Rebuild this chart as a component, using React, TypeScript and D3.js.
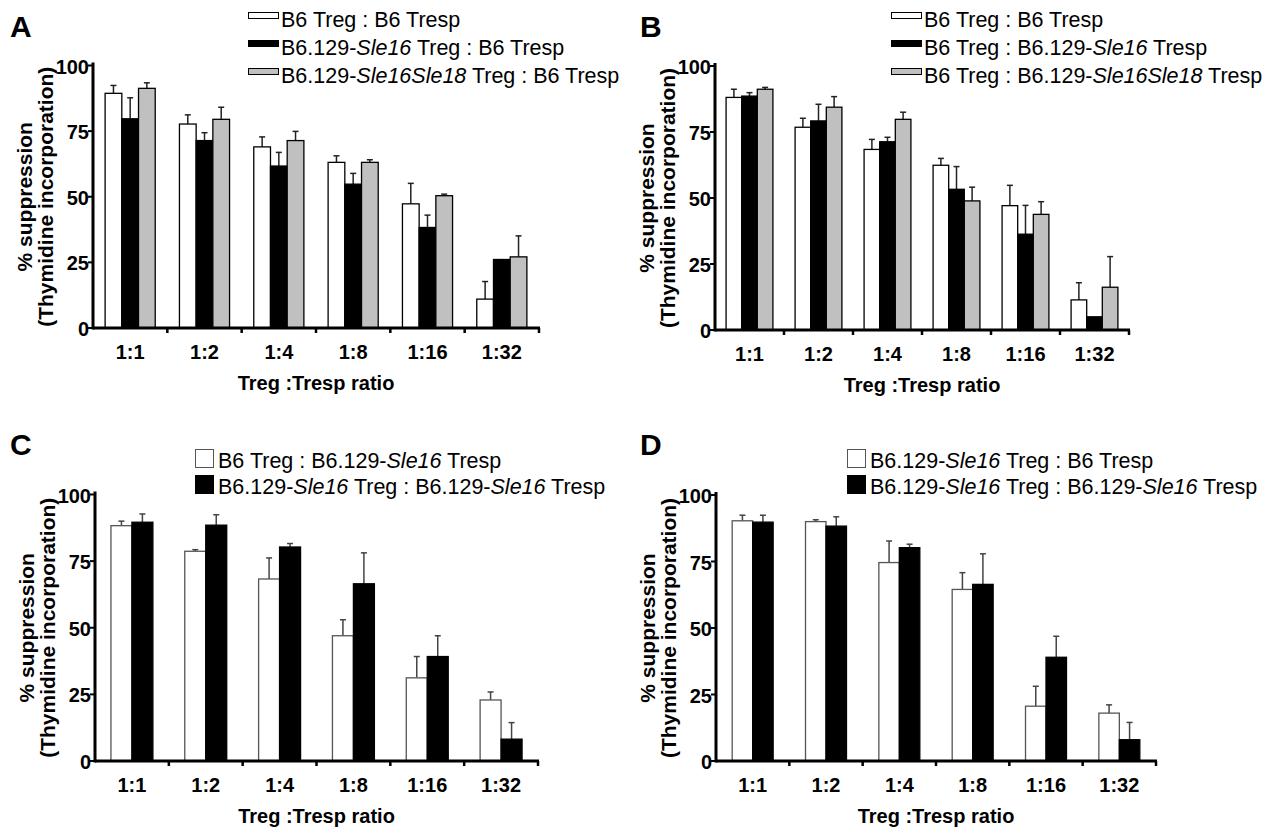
import React from "react";
import * as d3 from "d3";

// ---------- data ----------
const ratios = ["1:1", "1:2", "1:4", "1:8", "1:16", "1:32"];
const yTicks = [0, 25, 50, 75, 100];
const yTitle1 = "% suppression";
const yTitle2 = "(Thymidine incorporation)";
const xTitle = "Treg :Tresp ratio";

// Panel A
const aLabels = ["B6 Treg : B6 Tresp", "B6.129-*Sle16* Treg : B6 Tresp", "B6.129-*Sle16Sle18* Treg : B6 Tresp"];
const aWhite = [89.4, 77.7, 69.0, 63.1, 47.3, 11.0];
const aWhiteErr = [3.0, 3.5, 3.8, 2.5, 7.8, 6.7];
const aBlack = [79.7, 71.4, 61.7, 54.8, 38.3, 26.1];
const aBlackErr = [8.0, 3.0, 5.2, 4.1, 4.7, 0];
const aGrey = [91.3, 79.5, 71.4, 63.1, 50.4, 27.1];
const aGreyErr = [2.1, 4.6, 3.5, 1.0, 0.6, 8.0];

// Panel B
const bLabels = ["B6 Treg : B6 Tresp", "B6 Treg : B6.129-*Sle16* Tresp", "B6 Treg : B6.129-*Sle16Sle18* Tresp"];
const bWhite = [88.1, 76.8, 68.4, 62.4, 47.1, 11.4];
const bWhiteErr = [3.1, 3.4, 3.8, 2.6, 7.7, 6.5];
const bBlack = [88.6, 79.2, 71.3, 53.3, 36.3, 5.0];
const bBlackErr = [1.3, 6.3, 1.7, 8.6, 10.9, 0];
const bGrey = [91.2, 84.4, 79.8, 48.9, 43.8, 16.2];
const bGreyErr = [0.7, 4.0, 2.7, 5.2, 4.8, 11.6];

// Panel C
const cLabels = ["B6 Treg : B6.129-*Sle16* Tresp", "B6.129-*Sle16* Treg : B6.129-*Sle16* Tresp"];
const cWhite = [88.3, 78.7, 68.3, 47.0, 31.2, 22.9];
const cWhiteErr = [1.7, 0.6, 7.9, 6.0, 8.0, 3.0];
const cBlack = [89.6, 88.5, 80.3, 66.5, 39.2, 8.2];
const cBlackErr = [3.1, 3.9, 1.3, 11.6, 7.8, 6.2];

// Panel D
const dLabels = ["B6.129-*Sle16* Treg : B6 Tresp", "B6.129-*Sle16* Treg : B6.129-*Sle16* Tresp"];
const dWhite = [90.3, 90.0, 74.6, 64.5, 20.6, 18.0];
const dWhiteErr = [2.1, 0.7, 8.1, 6.3, 7.5, 3.1];
const dBlack = [89.8, 88.3, 80.2, 66.4, 39.0, 8.0];
const dBlackErr = [2.6, 3.5, 1.3, 11.5, 7.9, 6.5];

// ---------- styles / layout ----------
const FONT = "'Liberation Sans', Arial, Helvetica, sans-serif";
const WHITE = "#ffffff";
const BLACK = "#000000";
const GREY = "#c0c0c0";

type Series = { values: number[]; errs: number[]; fill: string; stroke: string };
type Panel = {
  letter: string;
  letterX: number;
  letterY: number;
  x0: number;
  x1: number;
  y0: number;
  y100: number;
  padOuter: number;
  series: Series[];
  labels: string[];
  legend: { boxX: number; boxW: number; boxH: number; boxDy: number; textX: number; baselines: number[] };
  errColor: string;
};

const panels: Panel[] = [
  {
    letter: "A", letterX: 10, letterY: 37,
    x0: 93, x1: 539, y0: 328, y100: 65.5, padOuter: 0.725,
    series: [
      { values: aWhite, errs: aWhiteErr, fill: WHITE, stroke: BLACK },
      { values: aBlack, errs: aBlackErr, fill: BLACK, stroke: BLACK },
      { values: aGrey, errs: aGreyErr, fill: GREY, stroke: BLACK },
    ],
    labels: aLabels,
    legend: { boxX: 248, boxW: 30, boxH: 6, boxDy: -15, textX: 281, baselines: [27, 55, 83] },
    errColor: "#222",
  },
  {
    letter: "B", letterX: 640, letterY: 37,
    x0: 715, x1: 1129, y0: 330, y100: 66, padOuter: 0.71,
    series: [
      { values: bWhite, errs: bWhiteErr, fill: WHITE, stroke: BLACK },
      { values: bBlack, errs: bBlackErr, fill: BLACK, stroke: BLACK },
      { values: bGrey, errs: bGreyErr, fill: GREY, stroke: BLACK },
    ],
    labels: bLabels,
    legend: { boxX: 891, boxW: 30, boxH: 6, boxDy: -15, textX: 924, baselines: [27, 55, 83] },
    errColor: "#222",
  },
  {
    letter: "C", letterX: 10, letterY: 455,
    x0: 95, x1: 538, y0: 761, y100: 494.5, padOuter: 0.76,
    series: [
      { values: cWhite, errs: cWhiteErr, fill: WHITE, stroke: "#555" },
      { values: cBlack, errs: cBlackErr, fill: BLACK, stroke: BLACK },
    ],
    labels: cLabels,
    legend: { boxX: 195, boxW: 18, boxH: 18, boxDy: -19, textX: 218, baselines: [468, 494] },
    errColor: "#444",
  },
  {
    letter: "D", letterX: 640, letterY: 455,
    x0: 716, x1: 1156, y0: 761, y100: 495, padOuter: 0.79,
    series: [
      { values: dWhite, errs: dWhiteErr, fill: WHITE, stroke: "#555" },
      { values: dBlack, errs: dBlackErr, fill: BLACK, stroke: BLACK },
    ],
    labels: dLabels,
    legend: { boxX: 847, boxW: 18, boxH: 18, boxDy: -19, textX: 870, baselines: [468, 494] },
    errColor: "#444",
  },
];

function RichText({ x, y, text, size }: { x: number; y: number; text: string; size: number }) {
  const parts = text.split("*");
  return (
    <text x={x} y={y} fontFamily={FONT} fontSize={size} fill="#000">
      {parts.map((p, i) => (
        <tspan key={i} fontStyle={i % 2 === 1 ? "italic" : "normal"}>
          {p}
        </tspan>
      ))}
    </text>
  );
}

function PanelView({ p }: { p: Panel }) {
  const x = d3.scaleBand<string>().domain(ratios).range([p.x0, p.x1]).paddingInner(0).paddingOuter(0);
  const keys = p.series.map((_, i) => String(i));
  const xs = d3.scaleBand<string>().domain(keys).range([0, x.bandwidth()]).paddingInner(0).paddingOuter(p.padOuter);
  const y = d3.scaleLinear().domain([0, 100]).range([p.y0, p.y100]);
  const midY = (p.y0 + p.y100) / 2;
  const midX = (p.x0 + p.x1) / 2;
  const bw = xs.bandwidth();
  const boundaries = ratios.map((r) => (x(r) as number) + x.bandwidth());

  return (
    <g>
      {/* panel letter */}
      <text x={p.letterX} y={p.letterY} fontFamily={FONT} fontSize={30} fontWeight="bold">
        {p.letter}
      </text>

      {/* legend */}
      {p.labels.map((lab, i) => (
        <g key={lab}>
          <rect
            x={p.legend.boxX + 0.5}
            y={p.legend.baselines[i] + p.legend.boxDy + 0.5}
            width={p.legend.boxW}
            height={p.legend.boxH}
            fill={p.series[i].fill}
            stroke={p.series[i].stroke}
            strokeWidth={1}
          />
          <RichText x={p.legend.textX} y={p.legend.baselines[i]} text={lab} size={21.5} />
        </g>
      ))}

      {/* bars */}
      {p.series.map((s, si) => (
        <g key={si}>
          {ratios.map((r, ri) => {
            const bx = (x(r) as number) + (xs(String(si)) as number);
            const top = y(s.values[ri]);
            const errTop = y(s.values[ri] + s.errs[ri]);
            const cx = bx + bw / 2;
            return (
              <g key={r}>
                {s.errs[ri] > 0.3 && (
                  <g stroke={p.errColor} strokeWidth={1.5}>
                    <line x1={cx} x2={cx} y1={top} y2={errTop} />
                    <line x1={cx - 3} x2={cx + 3} y1={errTop} y2={errTop} />
                  </g>
                )}
                <rect
                  x={bx}
                  y={top}
                  width={bw}
                  height={p.y0 - top}
                  fill={s.fill}
                  stroke={s.stroke}
                  strokeWidth={1.3}
                />
              </g>
            );
          })}
        </g>
      ))}

      {/* y axis */}
      <line x1={p.x0} x2={p.x0} y1={p.y100 - 3} y2={p.y0 + 1.5} stroke="#000" strokeWidth={3} />
      {yTicks.map((t) => (
        <g key={t}>
          <line x1={p.x0 - 5} x2={p.x0} y1={y(t)} y2={y(t)} stroke="#000" strokeWidth={2} />
          <text
            x={p.x0 - 4}
            y={y(t) + 8}
            textAnchor="end"
            fontFamily={FONT}
            fontSize={20}
            fontWeight="bold"
          >
            {t}
          </text>
        </g>
      ))}

      {/* y title */}
      <text
        transform={`translate(${p.x0 - 61},${midY}) rotate(-90)`}
        textAnchor="middle"
        fontFamily={FONT}
        fontSize={21}
        fontWeight="bold"
      >
        {yTitle1}
      </text>
      <text
        transform={`translate(${p.x0 - 40},${midY}) rotate(-90)`}
        textAnchor="middle"
        fontFamily={FONT}
        fontSize={21}
        fontWeight="bold"
      >
        {yTitle2}
      </text>

      {/* x axis */}
      <line x1={p.x0} x2={p.x1 + 1} y1={p.y0} y2={p.y0} stroke="#000" strokeWidth={3} />
      {boundaries.map((b, i) => (
        <line key={i} x1={b} x2={b} y1={p.y0} y2={p.y0 + 5} stroke="#000" strokeWidth={2.5} />
      ))}
      {ratios.map((r) => (
        <text
          key={r}
          x={(x(r) as number) + x.bandwidth() / 2}
          y={p.y0 + 31}
          textAnchor="middle"
          fontFamily={FONT}
          fontSize={20}
          fontWeight="bold"
        >
          {r}
        </text>
      ))}
      <text x={midX} y={p.y0 + 62} textAnchor="middle" fontFamily={FONT} fontSize={20} fontWeight="bold">
        {xTitle}
      </text>
    </g>
  );
}

export default function App() {
  React.useEffect(() => {
    document.body.style.margin = "0";
  }, []);
  return (
    <svg
      width={1282}
      height={833}
      viewBox="0 0 1282 833"
      style={{ position: "absolute", left: 0, top: 0, background: "#fff" }}
    >
      <rect x={0} y={0} width={1282} height={833} fill="#fff" />
      {panels.map((p) => (
        <PanelView key={p.letter} p={p} />
      ))}
    </svg>
  );
}
